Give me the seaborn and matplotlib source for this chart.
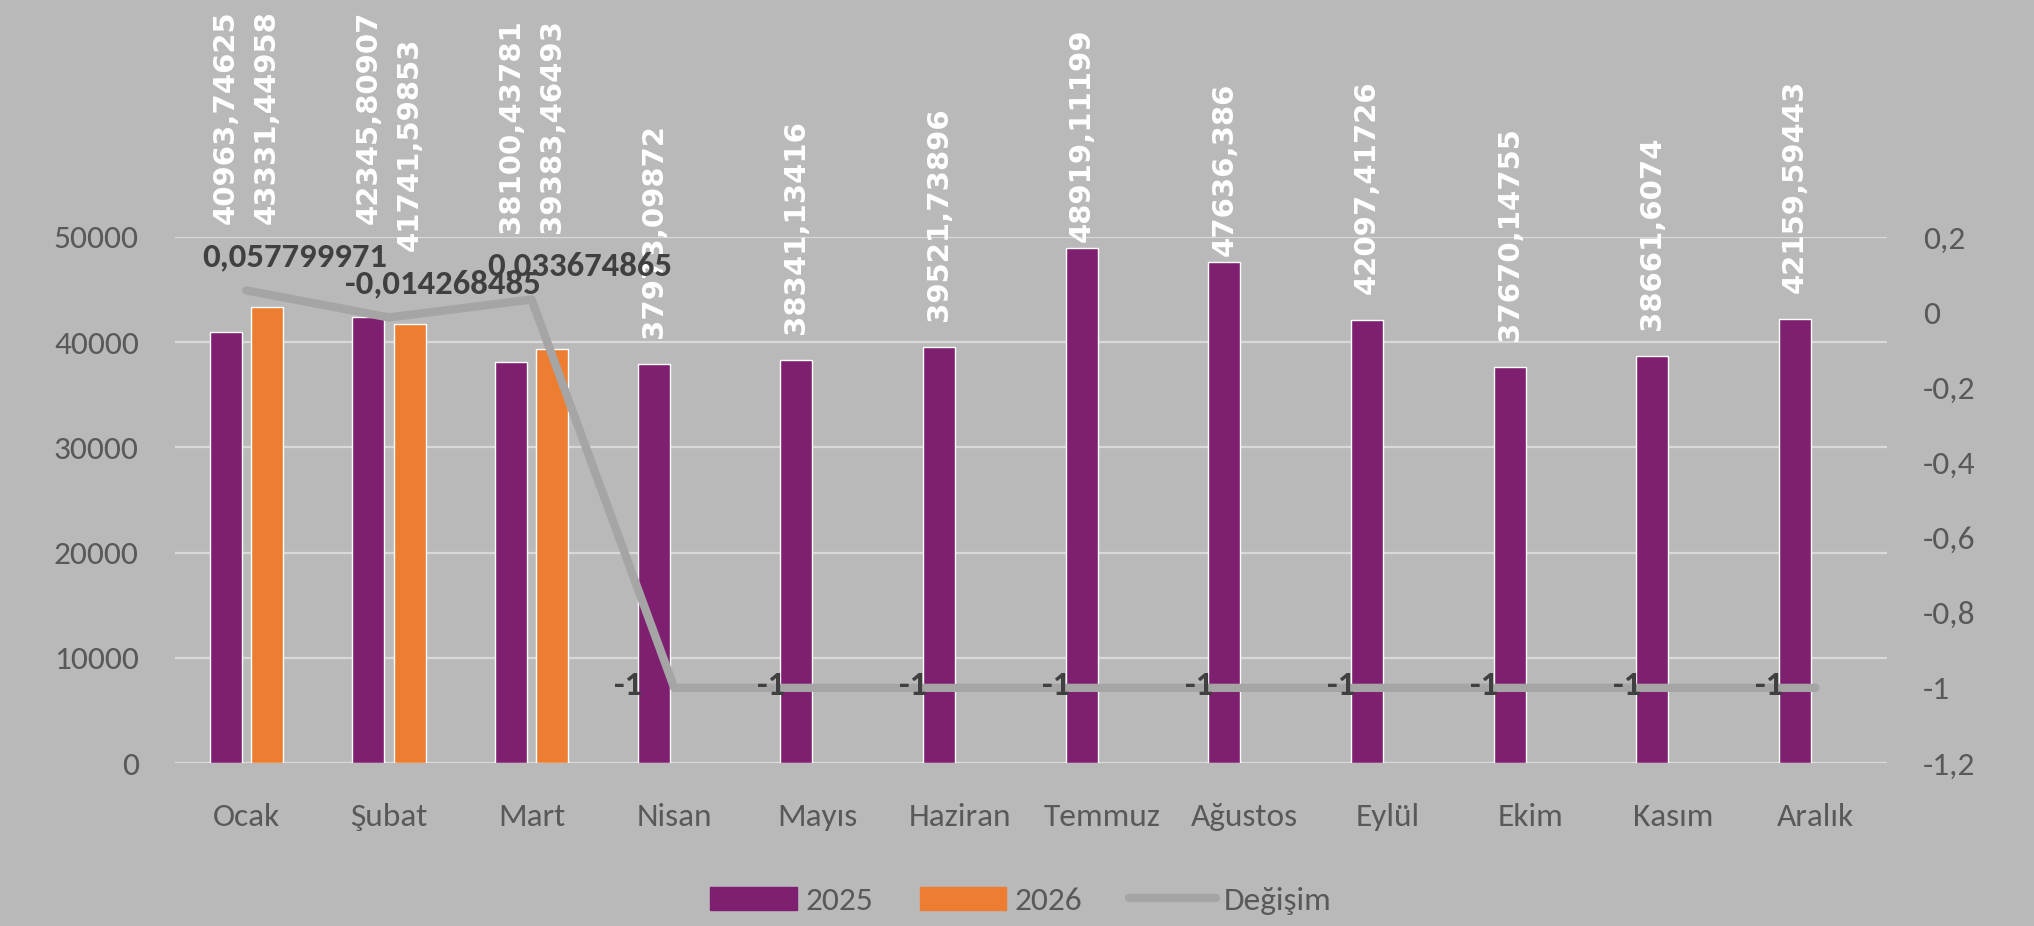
import numpy as np
import pandas as pd
import seaborn as sns
import matplotlib.pyplot as plt
from matplotlib import font_manager
from matplotlib.patches import Patch
from matplotlib.lines import Line2D
from matplotlib.ticker import FuncFormatter

# veriler
aylar = ['Ocak', 'Şubat', 'Mart', 'Nisan', 'Mayıs', 'Haziran', 'Temmuz',
         'Ağustos', 'Eylül', 'Ekim', 'Kasım', 'Aralık']
y2025 = [40963.74625, 42345.80907, 38100.43781, 37973.09872, 38341.13416,
         39521.73896, 48919.11199, 47636.386, 42097.41726, 37670.14755,
         38661.6074, 42159.59443]
y2026 = [43331.44958, 41741.59853, 39383.46493, np.nan, np.nan, np.nan,
         np.nan, np.nan, np.nan, np.nan, np.nan, np.nan]
degisim = [0.057799971, -0.014268485, 0.033674865, -1, -1, -1, -1, -1, -1,
           -1, -1, -1]

BG = '#B9B9B9'
MOR = '#7F1F70'
TURUNCU = '#ED7D31'
GRI = '#A5A5A5'
YAZI = '#595959'
KOYU = '#404040'

kurulu = {f.name for f in font_manager.fontManager.ttflist}
ana_font = 'Carlito' if 'Carlito' in kurulu else 'Lato'
dar_font = 'Liberation Sans Narrow' if 'Liberation Sans Narrow' in kurulu else 'DejaVu Sans'
dar_boyut = 31 if dar_font == 'Liberation Sans Narrow' else 21

sns.set_theme(style='white')
plt.rcParams['font.family'] = [ana_font, 'DejaVu Sans']


def virgul(v):
    s = repr(float(v))
    if s.endswith('.0'):
        s = s[:-2]
    return s.replace('.', ',')


df = pd.DataFrame({
    'Ay': aylar * 2,
    'Yıl': ['2025'] * 12 + ['2026'] * 12,
    'Değer': y2025 + y2026,
})

fig, ax = plt.subplots(figsize=(20.34, 9.26), dpi=100)
fig.patch.set_facecolor(BG)
ax.set_facecolor(BG)
fig.subplots_adjust(left=0.086, right=0.9277, bottom=0.176, top=0.7441)

sns.barplot(data=df, x='Ay', y='Değer', hue='Yıl', order=aylar,
            hue_order=['2025', '2026'], palette={'2025': MOR, '2026': TURUNCU},
            width=0.58, gap=0.224, saturation=1, errorbar=None, legend=False,
            ax=ax)
ax.set_xlim(-0.5, 11.5)
ax.set_ylim(0, 50000)
ax.set_yticks(range(0, 50001, 10000))
ax.yaxis.grid(True, color='#D9D9D9', linewidth=1.6)
ax.set_axisbelow(True)
ax.set_xlabel('')
ax.set_ylabel('')
for s in ax.spines.values():
    s.set_visible(False)
ax.tick_params(axis='both', length=0, labelsize=24, colors=YAZI)
ax.tick_params(axis='x', pad=29)
ax.tick_params(axis='y', pad=26)

# ikinci eksen: değişim çizgisi
ax2 = ax.twinx()
sns.lineplot(x=np.arange(len(aylar)), y=degisim, ax=ax2, color=GRI,
             linewidth=6, solid_capstyle='round', legend=False)
ax2.set_ylim(-1.2, 0.2)
ax2.set_yticks([-1.2, -1.0, -0.8, -0.6, -0.4, -0.2, 0.0, 0.2])
ax2.yaxis.set_major_formatter(
    FuncFormatter(lambda v, _: f"{round(v, 1) + 0.0:g}".replace('.', ',')))
ax2.grid(False)
ax2.set_ylabel('')
for s in ax2.spines.values():
    s.set_visible(False)
ax2.tick_params(axis='y', length=0, labelsize=24, colors=YAZI, pad=26)

cizgi_yazilari = []
for i, v in enumerate(degisim):
    if v > -1:
        t = ax2.annotate(virgul(v), xy=(i, v), xytext=(-44, 34),
                         textcoords='offset pixels', ha='left', va='center',
                         fontsize=25, fontweight='bold', color=KOYU)
    else:
        t = ax2.annotate(virgul(v), xy=(i, v), xytext=(-32, 2),
                         textcoords='offset pixels', ha='right', va='center',
                         fontsize=25, fontweight='bold', color=KOYU)
    cizgi_yazilari.append(t)

# sütun etiketleri (çizgi etiketleriyle çakışmayı önle)
fig.canvas.draw()
r = fig.canvas.get_renderer()
kutular = [t.get_window_extent(r) for t in cizgi_yazilari]
ust_sinir = ax.transAxes.transform((0, 1))[1]

for p in ax.patches:
    h = p.get_height()
    if not np.isfinite(h) or h == 0:
        continue
    cx = p.get_x() + p.get_width() / 2
    i = int(round(cx))
    deger = y2025[i] if cx < i else y2026[i]
    t = ax.annotate(virgul(deger), xy=(cx, h), xytext=(0, 26),
                    textcoords='offset pixels', rotation=90, ha='center',
                    va='bottom', color='white', fontsize=dar_boyut,
                    fontweight='bold', family=[dar_font, 'DejaVu Sans'])
    bb = t.get_window_extent(r)
    tepe = ax.transData.transform((cx, h))[1]
    alt = tepe + 26
    if alt > ust_sinir:
        alt = tepe + 6
    if np.isfinite(y2026[i]):
        degisti = True
        while degisti:
            degisti = False
            for kb in kutular:
                if bb.x0 < kb.x1 and bb.x1 > kb.x0 and alt < kb.y1 and alt + bb.height > kb.y0:
                    alt = kb.y1 + 18
                    degisti = True
    t.xyann = (0, alt - tepe)

tutamaclar = [Patch(color=MOR), Patch(color=TURUNCU),
              Line2D([0], [0], color=GRI, linewidth=6, solid_capstyle='round')]
fig.legend(tutamaclar, ['2025', '2026', 'Değişim'], loc='center',
           bbox_to_anchor=(0.502, 0.027), ncol=3, frameon=False,
           fontsize=24, labelcolor=YAZI, handlelength=2.6, handleheight=0.7,
           handletextpad=0.25, columnspacing=1.4)

plt.savefig('out.png', dpi=100, facecolor=BG)
